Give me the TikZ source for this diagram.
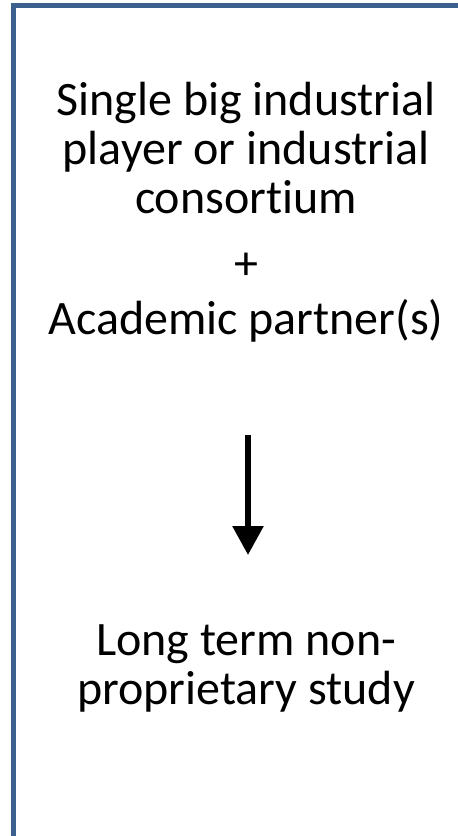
\documentclass[tikz,border=0pt]{standalone}
\usepackage{fontspec}
\setmainfont{Carlito}[Ligatures=CommonOff]
\usetikzlibrary{arrows.meta}
\definecolor{boxblue}{RGB}{60,96,142}
\tikzset{
  txt/.style = {align=center, inner sep=0pt, anchor=base, font=\fontsize{48}{49}\selectfont},
  downarrow/.style = {line width=5.7pt, -{Triangle[width=30pt, length=29pt]}}
}
\begin{document}
\begin{tikzpicture}[x=1pt, y=-1pt]
        \useasboundingbox (0, 0) rectangle (458, 836);
        \draw[boxblue, line width=4.5pt] (13.5, 5.5) rectangle (475, 850);
        \node[txt] (players) at (246, 213) {Single big industrial\\player or industrial\\consortium};
        \node[txt] (plus) at (246, 279) {+};
        \node[txt] (academic) at (246, 334) {Academic partner(s)};
        \coordinate (arrowtop) at (248, 435);
        \coordinate (arrowtip) at (248, 555);
        \draw[downarrow] (arrowtop) -- (arrowtip);
        \node[txt] (study) at (246, 704) {Long term non-\\proprietary study};
\end{tikzpicture}
\end{document}
